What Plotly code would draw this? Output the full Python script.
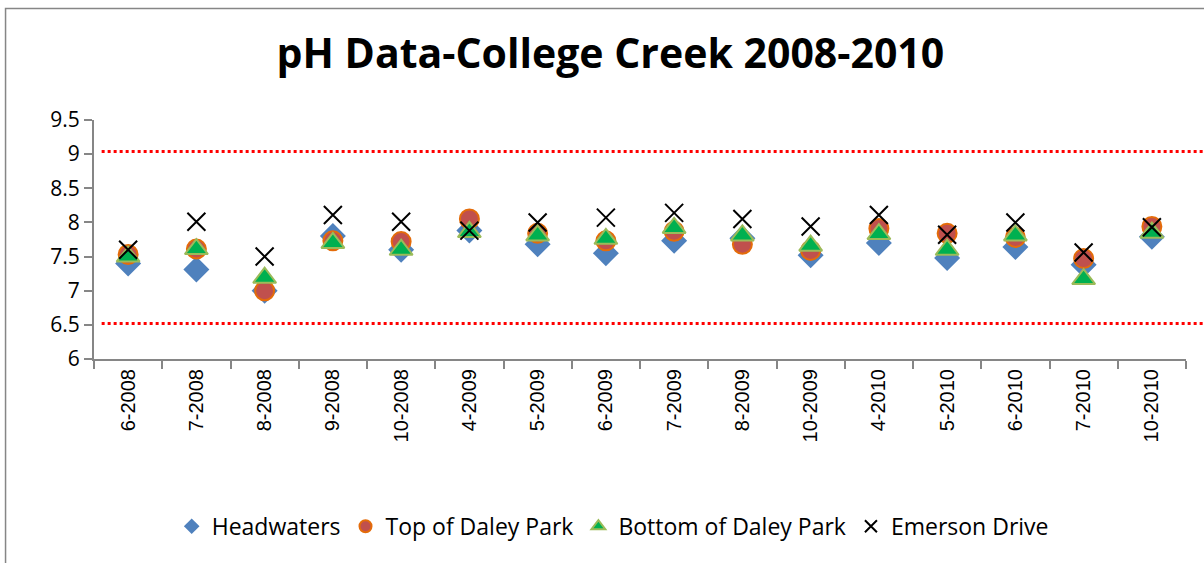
import plotly.graph_objects as go

categories = ["6-2008", "7-2008", "8-2008", "9-2008", "10-2008", "4-2009", "5-2009", "6-2009",
              "7-2009", "8-2009", "10-2009", "4-2010", "5-2010", "6-2010", "7-2010", "10-2010"]
headwaters = [7.40, 7.31, 7.00, 7.80, 7.60, 7.88, 7.68, 7.55, 7.73, 7.77, 7.52, 7.70, 7.48, 7.64, 7.38, 7.79]
top_daley = [7.53, 7.61, 7.00, 7.73, 7.72, 8.05, 7.84, 7.73, 7.87, 7.68, 7.59, 7.91, 7.84, 7.78, 7.47, 7.94]
bottom_daley = [7.50, 7.61, 7.19, 7.70, 7.60, 7.86, 7.81, 7.76, 7.92, 7.81, 7.66, 7.83, 7.60, 7.81, 7.17, 7.85]
emerson = [7.60, 8.01, 7.50, 8.11, 8.01, 7.88, 8.00, 8.07, 8.14, 8.05, 7.94, 8.11, 7.82, 8.00, 7.56, 7.93]
limits = [9.04, 6.52]
y_ticks = [6, 6.5, 7, 7.5, 8, 8.5, 9, 9.5]
y_tick_labels = ["6", "6.5", "7", "7.5", "8", "8.5", "9", "9.5"]

fig = go.Figure()
fig.add_trace(go.Scatter(x=categories, y=headwaters, mode="markers", name="Headwaters",
                         marker=dict(symbol="diamond", size=20, color="#4F81BD",
                                     line=dict(width=0))))
fig.add_trace(go.Scatter(x=categories, y=top_daley, mode="markers", name="Top of Daley Park",
                         marker=dict(symbol="circle", size=19, color="#C0504D",
                                     line=dict(width=2, color="#E46C0A"))))
fig.add_trace(go.Scatter(x=categories, y=bottom_daley, mode="markers", name="Bottom of Daley Park",
                         marker=dict(symbol="triangle-up", size=20, color="#00B050",
                                     line=dict(width=2, color="#9BBB59"))))
fig.add_trace(go.Scatter(x=categories, y=emerson, mode="markers", name="Emerson Drive",
                         marker=dict(symbol="x-thin-open", size=18, color="black",
                                     line=dict(width=2, color="black"))))

for v in limits:
    fig.add_shape(type="line", xref="paper", yref="y", x0=0.007, x1=1.1, y0=v, y1=v,
                  line=dict(color="#FF0000", width=3, dash="dot"), layer="below")

fig.add_shape(type="rect", xref="paper", yref="paper", x0=-0.081, x1=1.2, y0=-1.0, y1=1.4665,
              line=dict(color="#868686", width=1.5), fillcolor="rgba(0,0,0,0)")

fig.update_layout(
    width=1204, height=563,
    margin=dict(l=94, r=18, t=120, b=204),
    paper_bgcolor="white", plot_bgcolor="white",
    title=dict(text="<b>pH Data-College Creek 2008-2010</b>", x=0.507, xanchor="center",
               y=0.905, yanchor="middle",
               font=dict(family="Open Sans", size=41, color="black")),
    font=dict(family="Open Sans", color="black"),
    showlegend=True,
    legend=dict(orientation="h", x=0.475, xanchor="center", y=-0.7, yanchor="middle",
                font=dict(family="Open Sans", size=23, color="black"),
                itemsizing="constant", itemwidth=30, tracegroupgap=0),
    xaxis=dict(type="category", showgrid=False, showline=True, linecolor="#868686", linewidth=2,
               ticks="outside", tickson="boundaries", ticklen=8, tickcolor="#868686", tickwidth=2,
               tickangle=-90, tickfont=dict(family="Liberation Sans", size=20, color="black"),
               range=[-0.5, 15.5], zeroline=False, automargin=False),
    yaxis=dict(range=[6, 9.5], tickvals=y_ticks, ticktext=y_tick_labels, showgrid=False,
               showline=True, linecolor="#868686", linewidth=2, ticks="outside", ticklen=8,
               tickcolor="#868686", tickwidth=2,
               tickfont=dict(family="Open Sans", size=21, color="black"), zeroline=False,
               automargin=False),
)

fig.write_html("out.html", config={"displayModeBar": False},
               post_script="document.body.style.margin='0';document.body.style.overflow='hidden';")
